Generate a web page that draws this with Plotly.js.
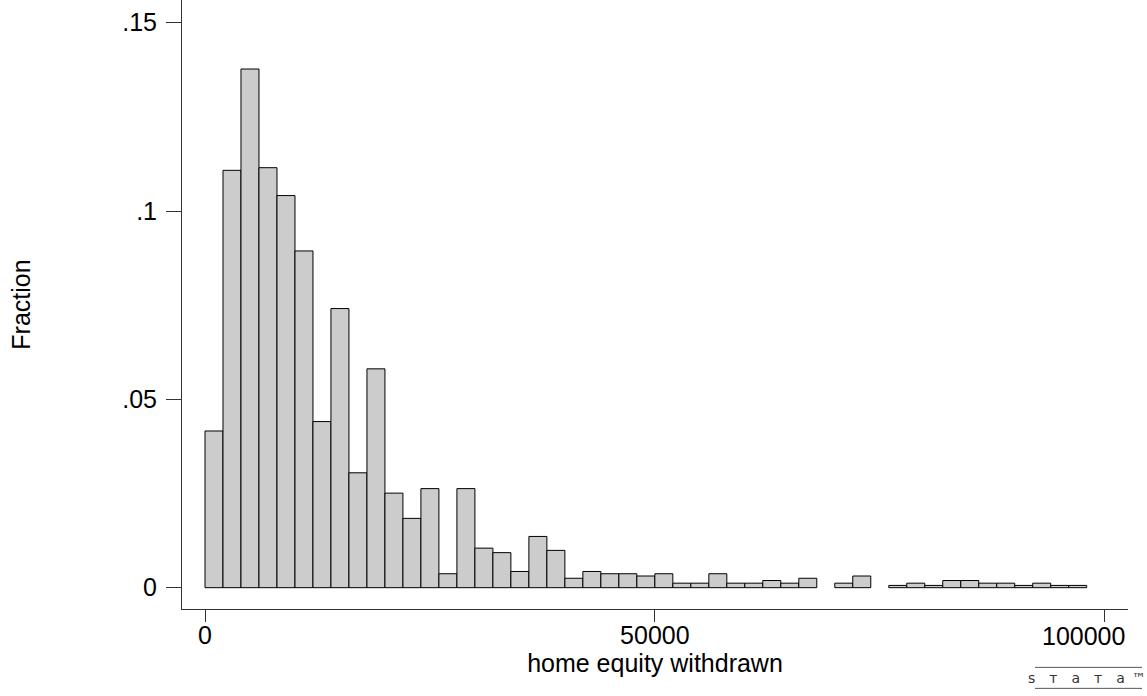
<!DOCTYPE html>
<html>
<head>
<meta charset="utf-8">
<script src="https://cdn.plot.ly/plotly-3.0.1.min.js"></script>
<style>
  html, body { margin: 0; padding: 0; background: #ffffff; }
  #chart { width: 1147px; height: 696px; }
</style>
</head>
<body>
<div id="chart"></div>
<script>
// Bin centers (bin width 2000) of home equity withdrawn
const binCenters = [1000, 3000, 5000, 7000, 9000, 11000, 13000, 15000, 17000, 19000,
  21000, 23000, 25000, 27000, 29000, 31000, 33000, 35000, 37000, 39000,
  41000, 43000, 45000, 47000, 49000, 51000, 53000, 55000, 57000, 59000,
  61000, 63000, 65000, 67000, 69000, 71000, 73000, 75000, 77000, 79000,
  81000, 83000, 85000, 87000, 89000, 91000, 93000, 95000, 97000];
const binWidth = 2000;
// Fraction of observations in each bin
const fractions = [0.0416, 0.1108, 0.1377, 0.1115, 0.1041, 0.0894, 0.0441, 0.0741, 0.0305, 0.0581,
  0.0251, 0.0184, 0.0263, 0.0037, 0.0263, 0.0105, 0.0093, 0.0043, 0.0136, 0.0099,
  0.0025, 0.0043, 0.0037, 0.0037, 0.0031, 0.0037, 0.0012, 0.0012, 0.0037, 0.0012,
  0.0012, 0.0019, 0.0012, 0.0025, 0, 0.0012, 0.0031, 0, 0.0006, 0.0012,
  0.0006, 0.0019, 0.0019, 0.0012, 0.0012, 0.0006, 0.0012, 0.0006, 0.0006];
const xTickVals = [0, 50000, 100000];
const xTickText = ['0', '50000', '100000'];
const yTickVals = [0, 0.05, 0.1, 0.15];
const yTickText = ['0', '.05', '.1', '.15'];

const FONT = 'Liberation Sans, Arial, Helvetica, sans-serif';
const XRANGE = [-2556, 102590];
const PLOT_H = 609.3;

const trace = {
  type: 'bar',
  x: binCenters,
  y: fractions.map(v => v === 0 ? null : v),
  width: binCenters.map(() => binWidth),
  marker: { color: '#cccccc', line: { color: '#000000', width: 1 } },
  hoverinfo: 'x+y'
};

const tickFont = { family: FONT, size: 25, color: '#000000' };

// the last x label is kept inside the graph (shifted left of its tick, as in the original)
const lastIdx = xTickVals.length - 1;
const shownTickText = xTickText.map((t, i) => i === lastIdx ? '' : t);

const layout = {
  width: 1147,
  height: 696,
  margin: { l: 182, r: 19, t: 0, b: 86.7, pad: 0 },
  paper_bgcolor: '#ffffff',
  plot_bgcolor: '#ffffff',
  showlegend: false,
  bargap: 0,
  font: { family: FONT, size: 25, color: '#000000' },
  xaxis: {
    range: XRANGE,
    showgrid: false,
    zeroline: false,
    showline: true,
    linecolor: '#333333',
    linewidth: 1,
    ticks: 'outside',
    ticklen: 12,
    tickwidth: 1,
    tickcolor: '#333333',
    tickvals: xTickVals,
    ticktext: shownTickText,
    ticklabelstandoff: -8,
    tickfont: tickFont,
    title: { text: 'home equity withdrawn', font: tickFont, standoff: 0 },
    automargin: false
  },
  yaxis: {
    range: [-0.00566, 0.15602],
    showgrid: false,
    zeroline: false,
    showline: true,
    linecolor: '#333333',
    linewidth: 1,
    ticks: 'outside',
    ticklen: 15,
    tickwidth: 1,
    tickcolor: '#333333',
    tickvals: yTickVals,
    ticktext: yTickText,
    ticklabelstandoff: 4,
    tickfont: tickFont,
    title: { text: 'Fraction', font: tickFont, standoff: 84 },
    automargin: false
  },
  shapes: [
    { type: 'line', xref: 'paper', yref: 'paper', x0: (1035 - 182) / 946, x1: (1142 - 182) / 946,
      y0: (PLOT_H - 667.7) / PLOT_H, y1: (PLOT_H - 667.7) / PLOT_H, line: { color: '#555555', width: 1 } },
    { type: 'line', xref: 'paper', yref: 'paper', x0: (1035 - 182) / 946, x1: (1142 - 182) / 946,
      y0: (PLOT_H - 688.7) / PLOT_H, y1: (PLOT_H - 688.7) / PLOT_H, line: { color: '#555555', width: 1 } }
  ],
  annotations: [
    { text: xTickText[lastIdx], xref: 'x', yref: 'paper', x: xTickVals[lastIdx], xshift: -21,
      y: (PLOT_H - 636) / PLOT_H, xanchor: 'center', yanchor: 'middle', showarrow: false,
      font: tickFont },
    { text: 's\u2003\u1d1b\u2003a\u2003\u1d1b\u2003a\u2002\u2122', xref: 'paper', yref: 'paper', x: (1087 - 182) / 946, y: (PLOT_H - 678.5) / PLOT_H,
      xanchor: 'center', yanchor: 'middle', showarrow: false,
      font: { family: 'DejaVu Sans, sans-serif', size: 14, color: '#333333' } }
  ]
};

Plotly.newPlot('chart', [trace], layout, { displayModeBar: false, staticPlot: true });
</script>
</body>
</html>
